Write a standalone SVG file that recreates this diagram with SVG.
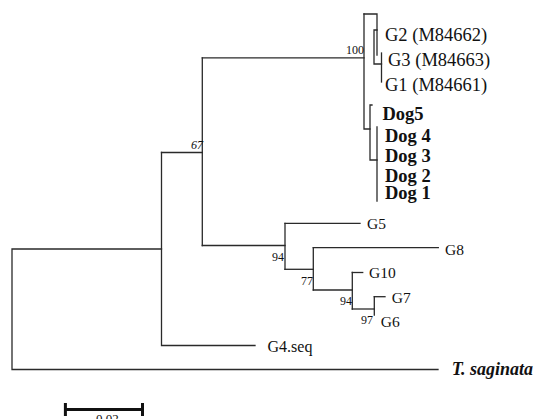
<svg xmlns="http://www.w3.org/2000/svg" width="534" height="419" viewBox="0 0 534 419">
<style>
.br{fill:none;stroke:#2a2a2a;stroke-width:1.3;stroke-linecap:square}
.sb{fill:none;stroke:#111;stroke-width:3}
text{font-family:"Liberation Serif","Times New Roman",serif;fill:#111}
.tx{font-size:18.5px}
.dg{font-size:18.5px;font-weight:bold}
.sm{font-size:15.5px}
.bs{font-size:12px;text-anchor:end}
</style>
<rect width="534" height="419" fill="#fff"/>
<g id="connectors">
<path class="br" d="M161.5 249H12V369.5H438"/>
<path class="br" d="M161.5 152.5V345.5H255"/>
<path class="br" d="M161.5 152.5H202.3"/>
<path class="br" d="M202.3 57.8V245.5"/>
<path class="br" d="M202.3 57.8H364"/>
<path class="br" d="M364 14V129H370"/>
<path class="br" d="M364 14H377V55"/>
<path class="br" d="M377 30H374V64H381.5"/>
<path class="br" d="M381.5 53V82"/>
<path class="br" d="M372 105H370V160H377"/>
<path class="br" d="M377 127V201"/>
<path class="br" d="M202.3 245.5H285"/>
<path class="br" d="M285 223.3V269.3"/>
<path class="br" d="M285 223.3H360"/>
<path class="br" d="M285 269.3H313.3"/>
<path class="br" d="M313.3 247.7V290"/>
<path class="br" d="M313.3 247.7H438.3"/>
<path class="br" d="M313.3 290H352.3"/>
<path class="br" d="M352.3 272.5V309"/>
<path class="br" d="M352.3 272.5H362.7"/>
<path class="br" d="M352.3 309H374.3"/>
<path class="br" d="M374.3 296.7V315"/>
<path class="br" d="M374.3 296.7H385"/>
</g>
<g id="node-G2"><text class="tx" x="385" y="40.5">G2 (M84662)</text></g>
<g id="node-G3"><text class="tx" x="388" y="66">G3 (M84663)</text></g>
<g id="node-G1"><text class="tx" x="385" y="90.5">G1 (M84661)</text></g>
<g id="node-Dog5"><text class="dg" x="382.5" y="120">Dog5</text></g>
<g id="node-Dog4"><text class="dg" x="385" y="141.5">Dog 4</text></g>
<g id="node-Dog3"><text class="dg" x="385" y="161.5">Dog 3</text></g>
<g id="node-Dog2"><text class="dg" x="385" y="181.5">Dog 2</text></g>
<g id="node-Dog1"><text class="dg" x="385" y="198.5">Dog 1</text></g>
<g id="node-G5"><text class="sm" x="367" y="229">G5</text></g>
<g id="node-G8"><text class="sm" x="445" y="254.5">G8</text></g>
<g id="node-G10"><text class="sm" x="369" y="278.3">G10</text></g>
<g id="node-G7"><text class="sm" x="391.7" y="302.7">G7</text></g>
<g id="node-G6"><text class="sm" x="380.7" y="326.7">G6</text></g>
<g id="node-G4seq"><text x="267.5" y="352" font-size="16">G4.seq</text></g>
<g id="node-Tsaginata"><text x="451.7" y="375" font-size="18" font-weight="bold" font-style="italic">T. saginata</text></g>
<g id="bootstrap">
<text class="bs" x="364" y="54">100</text>
<text class="bs" x="203" y="148.5" font-style="italic">67</text>
<text class="bs" x="284" y="261">94</text>
<text class="bs" x="313" y="284.5">77</text>
<text class="bs" x="352" y="304.5">94</text>
<text class="bs" x="373" y="323.5">97</text>
</g>
<g id="scale-bar">
<path class="sb" d="M65.4 409.5H142.5M65.4 403V416M142.5 403V416"/>
<text x="96" y="423" font-size="13">0.02</text>
</g>
</svg>
